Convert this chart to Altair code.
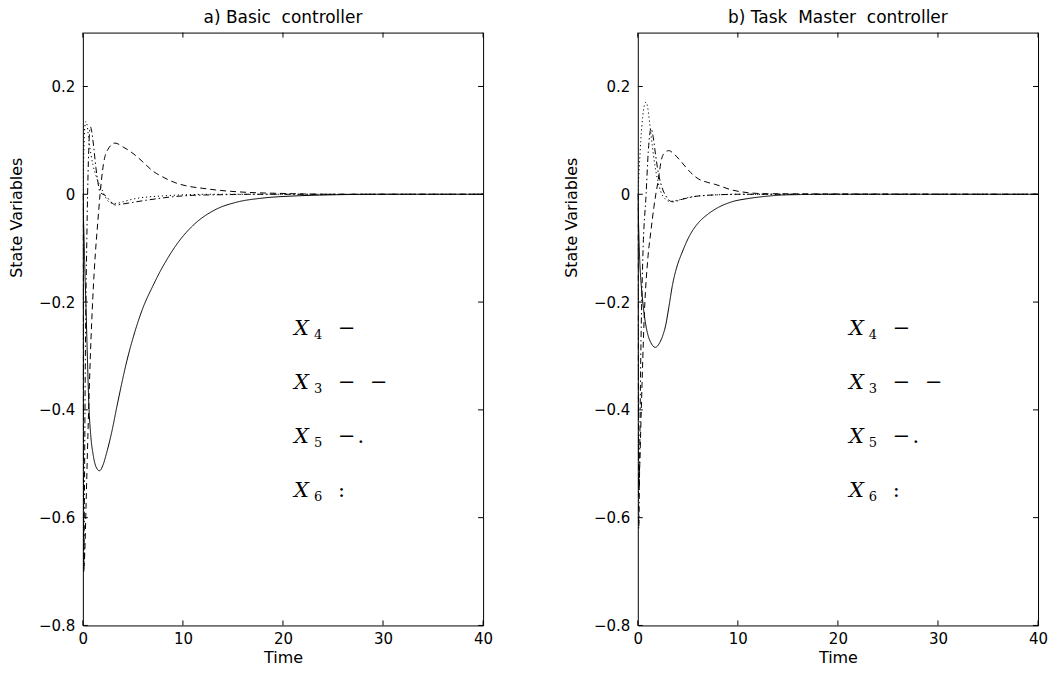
import altair as alt
import pandas as pd

# ---------------- axes ----------------
X_TICKS = [0, 10, 20, 30, 40]
Y_TICKS = [-0.8, -0.6, -0.4, -0.2, 0.0, 0.2]
SERIES = ["X4", "X3", "X5", "X6"]
DASHES = [[1, 0], [6, 4], [6, 3, 1.5, 3], [1.2, 2.8]]

TITLE_A = "a) Basic\u00a0 controller"
TITLE_B = "b) Task\u00a0 Master\u00a0 controller"

# ---------------- panel a : basic controller ----------------
A_X4_T = [0, 0.1, 0.2, 0.3, 0.45, 0.6, 0.8, 1.0, 1.3, 1.66, 2.0, 2.4, 2.9, 3.4, 4.4, 5.2, 6.0, 7.0, 7.7, 8.5, 9.3, 11.0, 13.3, 15.3, 18, 21.3, 25, 30, 40]
A_X4_V = [0, -0.07, -0.14, -0.2, -0.3, -0.39, -0.45, -0.48, -0.505, -0.513, -0.503, -0.478, -0.44, -0.394, -0.309, -0.255, -0.211, -0.17, -0.144, -0.118, -0.095, -0.058, -0.028, -0.015, -0.007, -0.003, -0.001, 0, 0]

A_X3_T = [0, 0.05, 0.12, 0.2, 0.33, 0.5, 0.75, 1.0, 1.25, 1.5, 1.72, 2.05, 2.5, 3.2, 4.0, 5.0, 6.0, 7.0, 8.0, 9.3, 10.5, 12, 13.3, 16, 20, 25, 40]
A_X3_V = [0, -0.45, -0.69, -0.66, -0.57, -0.45, -0.3, -0.19, -0.11, -0.05, 0.0, 0.055, 0.083, 0.095, 0.088, 0.076, 0.06, 0.043, 0.032, 0.021, 0.015, 0.011, 0.008, 0.004, 0.0015, 0, 0]

A_X5_T = [0, 0.04, 0.1, 0.16, 0.25, 0.4, 0.55, 0.75, 0.9, 1.1, 1.3, 1.46, 1.7, 2.0, 2.3, 2.8, 3.3, 4.0, 5.0, 6.0, 7.5, 9.3, 11, 13.3, 17, 22, 40]
A_X5_V = [0, -0.35, -0.7, -0.55, -0.3, -0.08, 0.06, 0.125, 0.115, 0.085, 0.05, 0.028, 0.005, 0.0, -0.003, -0.014, -0.02, -0.018, -0.015, -0.012, -0.008, -0.004, -0.002, -0.001, 0, 0, 0]

A_X6_T = [0, 0.1, 0.2, 0.3, 0.45, 0.6, 0.8, 1.0, 1.3, 1.6, 2.0, 2.4, 2.8, 3.3, 4, 5, 6.5, 8, 10, 13, 40]
A_X6_V = [0, 0.08, 0.125, 0.135, 0.125, 0.1, 0.075, 0.055, 0.035, 0.02, 0.005, -0.01, -0.016, -0.017, -0.014, -0.009, -0.005, -0.003, -0.001, 0, 0]

# ---------------- panel b : task master controller ----------------
B_X4_T = [0, 0.1, 0.2, 0.33, 0.5, 0.75, 1.0, 1.3, 1.75, 2.2, 2.5, 2.8, 3.1, 3.47, 3.9, 4.45, 5.2, 6.1, 7.0, 7.75, 9.4, 11, 12.7, 15, 20, 40]
B_X4_V = [0, -0.07, -0.125, -0.165, -0.2, -0.237, -0.26, -0.275, -0.284, -0.275, -0.262, -0.242, -0.21, -0.168, -0.135, -0.107, -0.076, -0.052, -0.037, -0.0275, -0.014, -0.008, -0.004, -0.001, 0, 0]

B_X3_T = [0, 0.05, 0.12, 0.2, 0.35, 0.66, 1.0, 1.3, 1.6, 1.8, 2.0, 2.4, 2.8, 3.1, 3.6, 4.45, 5.3, 6.1, 7.0, 7.8, 9.4, 11, 13, 40]
B_X3_V = [0, -0.35, -0.55, -0.5, -0.4, -0.22, -0.12, -0.07, -0.025, 0.0, 0.021, 0.067, 0.079, 0.081, 0.075, 0.058, 0.04, 0.028, 0.022, 0.018, 0.008, 0.003, 0.001, 0]

B_X5_T = [0, 0.04, 0.1, 0.18, 0.3, 0.5, 0.83, 1.05, 1.32, 1.55, 1.8, 2.05, 2.3, 2.8, 3.5, 4.5, 6.1, 8, 10, 40]
B_X5_V = [0, -0.3, -0.62, -0.5, -0.3, -0.12, 0.0, 0.08, 0.122, 0.105, 0.07, 0.04, 0.02, -0.003, -0.014, -0.009, -0.003, -0.001, 0, 0]

B_X6_T = [0, 0.15, 0.3, 0.5, 0.65, 0.83, 1.0, 1.2, 1.45, 1.7, 2.0, 2.3, 2.7, 3.2, 4, 5, 7, 10, 40]
B_X6_V = [0, 0.05, 0.1, 0.145, 0.165, 0.171, 0.16, 0.13, 0.09, 0.055, 0.025, 0.005, -0.008, -0.013, -0.011, -0.006, -0.002, 0, 0]

# ---------------- legend text ----------------
LEG_T = [21.1, 21.1, 21.1, 21.1]
LEG_V = [-0.25, -0.35, -0.45, -0.55]
LEG_X = ["X", "X", "X", "X"]
LEG_SUB = ["4", "3", "5", "6"]
LEG_SYM = ["\u2212", "\u2212\u2002\u2009\u2212", "\u2212\u200a.", ":"]

W, H = 401, 594
FONT = "DejaVu Sans"


def series_df(pairs):
    rows = []
    for name, ts, vs in pairs:
        for t, v in zip(ts, vs):
            rows.append({"series": name, "t": t, "v": v})
    return pd.DataFrame(rows)


df_a = series_df([("X4", A_X4_T, A_X4_V), ("X3", A_X3_T, A_X3_V),
                  ("X5", A_X5_T, A_X5_V), ("X6", A_X6_T, A_X6_V)])
df_b = series_df([("X4", B_X4_T, B_X4_V), ("X3", B_X3_T, B_X3_V),
                  ("X5", B_X5_T, B_X5_V), ("X6", B_X6_T, B_X6_V)])

leg_df = pd.DataFrame({"t": LEG_T, "v": LEG_V, "x": LEG_X, "sub": LEG_SUB, "sym": LEG_SYM})
xt_df = pd.DataFrame({"t": X_TICKS})
yt_df = pd.DataFrame({"v": Y_TICKS})

x_scale = alt.Scale(domain=[0, 40], nice=False, zero=False)
y_scale = alt.Scale(domain=[-0.8, 0.3], nice=False, zero=False)


def panel(df, title):
    x_enc = alt.X("t:Q", scale=x_scale,
                  axis=alt.Axis(values=X_TICKS, format="d", title="Time", ticks=False,
                                domain=False, grid=False, labelFlush=False, labelOverlap=False,
                                labelPadding=6, titlePadding=3))
    y_enc = alt.Y("v:Q", scale=y_scale,
                  axis=alt.Axis(values=Y_TICKS, format=".1~f", title="State Variables",
                                ticks=False, domain=False, grid=False, labelFlush=False,
                                labelOverlap=False, labelPadding=8,
                                titleX=-74, titleY=185, titleBaseline="top",
                                titleAlign="center", titleAngle=270))
    lines = alt.Chart(df).mark_line(color="black", strokeWidth=1, interpolate="monotone",
                                    clip=True).encode(
        x=x_enc, y=y_enc,
        strokeDash=alt.StrokeDash("series:N", scale=alt.Scale(domain=SERIES, range=DASHES),
                                  legend=None),
        detail="series:N",
    )
    tick_b = alt.Chart(xt_df).mark_rule(color="black", strokeWidth=1).encode(
        x="t:Q", y=alt.value(H), y2=alt.value(H - 5))
    tick_t = alt.Chart(xt_df).mark_rule(color="black", strokeWidth=1).encode(
        x="t:Q", y=alt.value(0), y2=alt.value(5))
    tick_l = alt.Chart(yt_df).mark_rule(color="black", strokeWidth=1).encode(
        y="v:Q", x=alt.value(0), x2=alt.value(5))
    tick_r = alt.Chart(yt_df).mark_rule(color="black", strokeWidth=1).encode(
        y="v:Q", x=alt.value(W), x2=alt.value(W - 5))
    leg_x = alt.Chart(leg_df).mark_text(font="DejaVu Serif", fontStyle="italic",
                                        fontSize=21, align="left", baseline="middle",
                                        color="black").encode(
        x="t:Q", y="v:Q", text="x:N")
    leg_sub = alt.Chart(leg_df).mark_text(font="DejaVu Serif", fontSize=13,
                                          align="left", baseline="middle", dx=20, dy=6,
                                          color="black").encode(
        x="t:Q", y="v:Q", text="sub:N")
    leg_sym = alt.Chart(leg_df).mark_text(font="DejaVu Serif", fontSize=21,
                                          align="left", baseline="middle", dx=44, dy=0,
                                          color="black").encode(
        x="t:Q", y="v:Q", text="sym:N")
    return alt.layer(lines, tick_b, tick_t, tick_l, tick_r, leg_x, leg_sub, leg_sym).properties(
        width=W, height=H,
        title=alt.TitleParams(title, font=FONT, fontSize=17, fontWeight="normal",
                              anchor="middle", offset=5, color="black"),
    )


chart = alt.hconcat(panel(df_a, TITLE_A), panel(df_b, TITLE_B), spacing=69).properties(
    padding={"left": 0, "top": 0, "right": 0, "bottom": 0},
    background="white",
).configure_view(stroke="black", strokeWidth=1).configure_axis(
    labelFont=FONT, labelFontSize=15, labelColor="black",
    titleFont=FONT, titleFontSize=16, titleFontWeight="normal", titleColor="black",
)

chart.save("out.html", embed_options={"renderer": "svg", "actions": False})
